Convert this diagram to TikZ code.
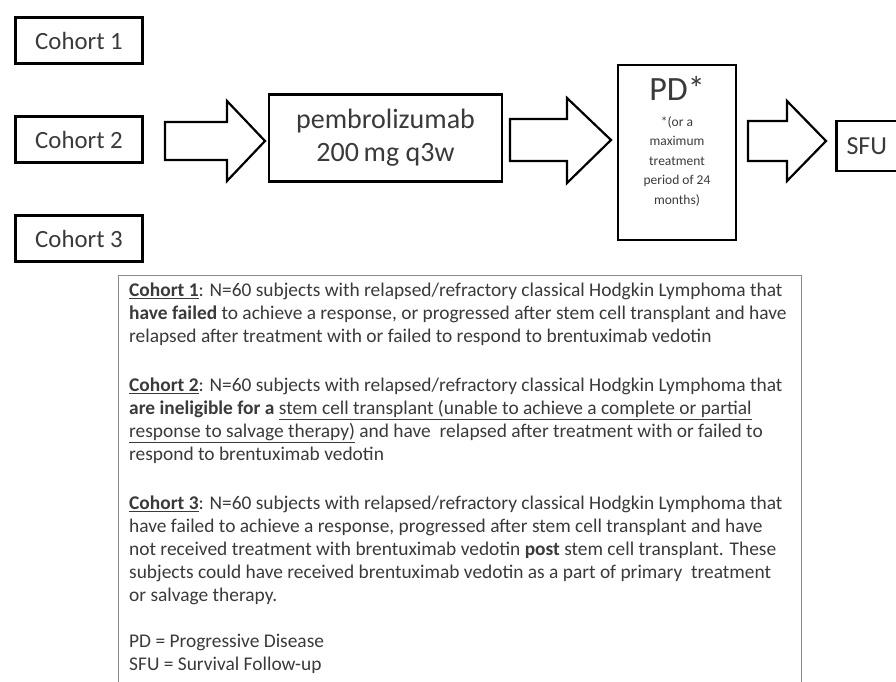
\documentclass[tikz,border=0pt]{standalone}
\usepackage{fontspec}
\setmainfont{Carlito}
\definecolor{txt}{HTML}{3A3A3A}
\definecolor{frame}{HTML}{8A8A8A}
\begin{document}
\begin{tikzpicture}[x=1pt,y=-1pt,
  cbox/.style={draw=black,line width=2.5pt,minimum width=127pt,minimum height=46pt,inner sep=0pt,font=\fontsize{24.8}{28}\selectfont,text=txt},
  flowbox/.style={draw=black,line width=2.5pt,inner sep=0pt,text=txt},
  blockarrow/.style={draw=black,line width=2.2pt,fill=white,line join=miter},
  para/.style={anchor=base west,align=left,inner sep=0pt,font=\fontsize{19.4}{22.9}\selectfont,text=txt}]
\clip (0,0) rectangle (896,682);
\fill[white] (0,0) rectangle (896,682);
% cohort boxes
\node[cbox] (c1) at (79,40.5) {Cohort 1};
\node[cbox] (c2) at (79,139.5) {Cohort 2};
\node[cbox] (c3) at (79,238.5) {Cohort 3};
% flow boxes
\node[flowbox,minimum width=233pt,minimum height=87pt,align=center,font=\fontsize{28}{33}\selectfont] (pem) at (385.5,138) {pembrolizumab\\200\,mg q3w};
\node[flowbox,minimum width=118pt,minimum height=175pt] (pd) at (677,152.5) {};
\node[text=txt,font=\fontsize{34}{36}\selectfont,inner sep=0pt] (pdt) at (677,88) {PD*};
\node[text=txt,font=\fontsize{13.5}{19.5}\selectfont,align=center,inner sep=0pt,anchor=north] (pdn) at (677,116) {*(or a\\maximum\\treatment\\period of 24\\months)};
\node[flowbox,minimum width=80pt,minimum height=50pt,font=\fontsize{26}{30}\selectfont,text width=60pt,align=left] (sfu) at (876.5,146) {SFU};
% block arrows
\draw[blockarrow] (165,122) -- (227,122) -- (227,101) -- (265,141) -- (227,181) -- (227,160) -- (165,160) -- cycle;
\draw[blockarrow] (510,119) -- (567,119) -- (567,98) -- (611,140) -- (567,183) -- (567,161) -- (510,161) -- cycle;
\draw[blockarrow] (748,121) -- (787,121) -- (787,101) -- (826,141) -- (787,181) -- (787,161) -- (748,161) -- cycle;
% legend frame
\draw[frame,line width=1.6pt] (118.5,690) -- (118.5,275.5) -- (801.5,275.5) -- (801.5,690);
% legend text (anchor = baseline of last line)
\node[para] (p1) at (129,342) {\underline{\textbf{Cohort 1}}: N=60 subjects with relapsed/refractory classical Hodgkin Lymphoma that\\
\textbf{have failed} to achieve a response, or progressed after stem cell transplant and have\\
relapsed after treatment with or failed to respond to brentuximab vedotin};
\node[para] (p2) at (129,460) {\underline{\textbf{Cohort 2}}: N=60 subjects with relapsed/refractory classical Hodgkin Lymphoma that\\
\textbf{are ineligible for a} \underline{stem cell transplant (unable to achieve a complete or partial}\\
\underline{response to salvage therapy)} and have\ \ relapsed after treatment with or failed to\\
respond to brentuximab vedotin};
\node[para] (p3) at (129,601) {\underline{\textbf{Cohort 3}}: N=60 subjects with relapsed/refractory classical Hodgkin Lymphoma that\\
have failed to achieve a response, progressed after stem cell transplant and have\\
not received treatment with brentuximab vedotin \textbf{post} stem cell transplant. These\\
subjects could have received brentuximab vedotin as a part of primary\ \ treatment\\
or salvage therapy.};
\node[para] (p4) at (129,670) {PD = Progressive Disease\\SFU = Survival Follow-up};
\end{tikzpicture}
\end{document}
